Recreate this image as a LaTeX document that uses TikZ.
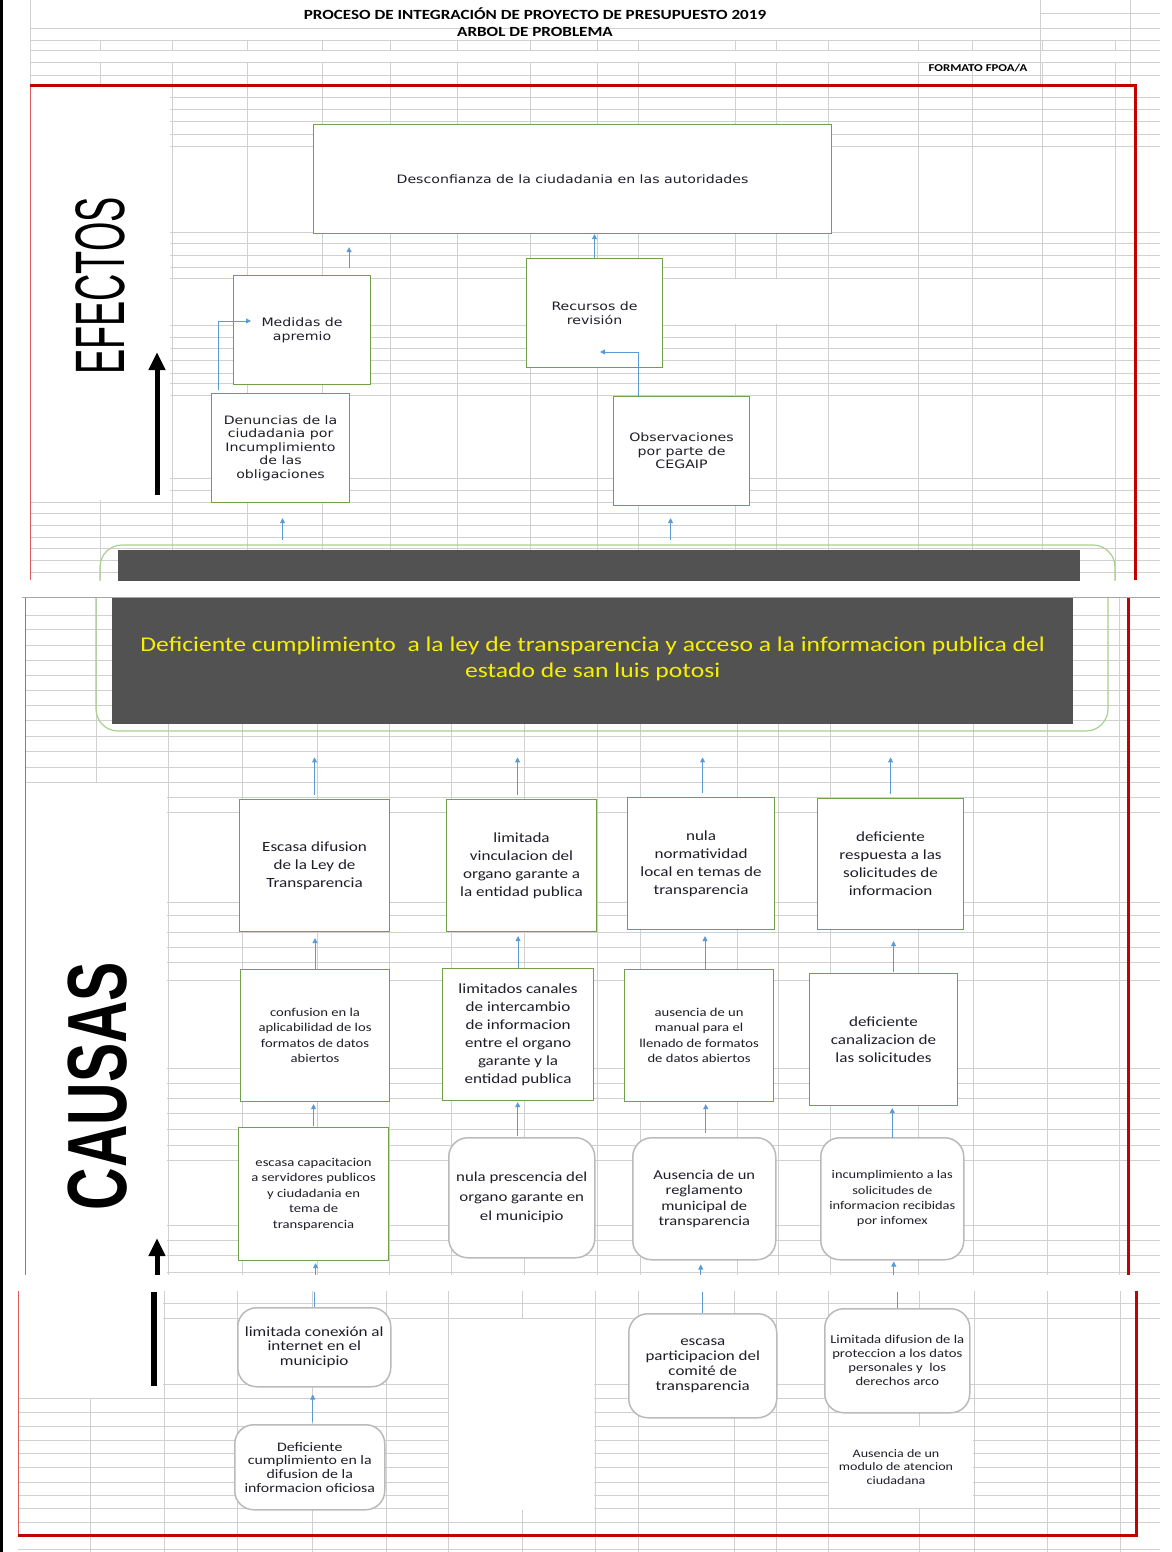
\documentclass[tikz,border=0pt]{standalone}
\usepackage{fontspec}
\usepackage{graphicx}
\usetikzlibrary{arrows.meta,calc}
\setmainfont{DejaVu Sans}
\newfontfamily\fA[FakeStretch=1.22]{DejaVu Sans}
\newfontfamily\fB[FakeStretch=1.22]{Carlito}
\newfontfamily\fArial{Liberation Sans}
\definecolor{gridc}{RGB}{208,208,208}
\definecolor{boxgreen}{RGB}{112,160,72}
\definecolor{boxgray}{RGB}{186,186,186}
\definecolor{framegreen}{RGB}{169,209,142}
\definecolor{darkfill}{RGB}{82,82,82}
\definecolor{ytext}{RGB}{246,240,0}
\definecolor{arrowblue}{RGB}{91,155,213}
\definecolor{redframe}{RGB}{196,0,0}
\definecolor{redthinc}{RGB}{222,90,90}
\definecolor{txt}{RGB}{30,30,40}
\begin{document}
\begin{tikzpicture}[x=1pt,y=-1pt,
  gridline/.style={draw=gridc, line width=0.8pt},
  redthick/.style={draw=redframe, line width=3pt},
  redthin/.style={draw=redthinc, line width=1pt},
  gbox/.style={draw=boxgreen, line width=1.1pt, fill=white, inner sep=2pt, align=center, anchor=north west},
  rbox/.style={draw=boxgray, line width=1.5pt, fill=white, rounded corners=19pt, inner sep=2pt, align=center, anchor=north west},
  darkbox/.style={fill=darkfill, inner sep=0pt, anchor=north west, align=center},
  probframe/.style={draw=framegreen, line width=1.2pt, rounded corners=22pt},
  barrow/.style={draw=arrowblue, line width=0.9pt, -{Triangle[width=5pt,length=5pt]}},
  bline/.style={draw=arrowblue, line width=0.9pt},
  bigarrow/.style={draw=black, line width=5pt, -{Triangle[width=16pt,length=18pt]}},
  tA/.style={font=\fA\fontsize{11.6}{13.5}\selectfont, text=txt},
  tR/.style={font=\fB\fontsize{14}{18}\selectfont, text=txt},
  tS/.style={font=\fB\fontsize{12}{15.4}\selectfont, text=txt},
  titlef/.style={font=\fB\bfseries\fontsize{14}{15}\selectfont}
]
\useasboundingbox (0,0) rectangle (1172,1552);
\fill[white] (0,0) rectangle (1172,1552);

% ---------------- segment 1 grid ----------------
\foreach \y in {28,40,50,62,75} \draw[gridline] (30,\y) -- (1160,\y);
\draw[gridline] (1040,13) -- (1160,13);
\foreach \x in {30,1040,1130} \draw[gridline] (\x,0) -- (\x,86);
\foreach \x in {100,172,247,322,390,457,530,597,638,735,776,828,918,972,1042,1115} {
  \draw[gridline] (\x,40) -- (\x,50);
  \draw[gridline] (\x,62) -- (\x,580);
}
\foreach \y in {97,109,121,134,146,232,243,255,267,278,325,337,348,360,373,383,395,478,490,502,513,525,537,548,560,572}
  \draw[gridline] (30,\y) -- (1160,\y);
\fill[white] (31,87) rectangle (170,500);
\fill[white] (662,279) rectangle (826,324);

% ---------------- segment 2 grid ----------------
\foreach \y in {615,629,645,660,675,690,705,720,736,751,767,782,797,812,902,915,932,947,962,980,1068,1083,1098,1113,1129,1145,1160,1225,1240,1255,1272}
  \draw[gridline] (25,\y) -- (1160,\y);
\foreach \x in {168,242,317,389,451,524,597,640,737,778,830,918,973,1047,1119}
  \draw[gridline] (\x,598) -- (\x,1275);
\draw[gridline] (96,598) -- (96,782);
\fill[white] (26,783) rectangle (167,1275);
\draw[draw=gray!70, line width=1pt] (22,597.5) -- (1160,597.5);

% ---------------- segment 3 grid ----------------
\foreach \y in {1303,1318,1384,1398,1412,1426,1440,1453,1467,1482,1495,1508,1522,1549}
  \draw[gridline] (18,\y) -- (1160,\y);
\foreach \x in {164,237,312,386,448,522,595,638,734,776,828,919,974,1047,1120}
  \draw[gridline] (\x,1291) -- (\x,1552);
\draw[gridline] (90,1398) -- (90,1552);
\fill[white] (19,1291) rectangle (163,1397);
\fill[white] (449,1319) rectangle (594,1510);
\fill[white] (829,1427) rectangle (973,1508);

% ---------------- frames ----------------
\draw[black, line width=3pt] (1.5,0) -- (1.5,1552);
\draw[redthin] (30,86) -- (30,580);
\draw[redthick] (30,86) -- (1135,86) -- (1135,580);
\draw[redthin] (25,598) -- (25,1275);
\draw[redthick] (1128,598) -- (1128,1275);
\draw[redthin] (18,1291) -- (18,1535);
\draw[redthick] (18,1535) -- (1136,1535) -- (1136,1291);

% ---------------- titles ----------------
\node[titlef] (t1) at (535,14) {PROCESO DE INTEGRACIÓN DE PROYECTO DE PRESUPUESTO 2019};
\node[titlef] (t2) at (535,32) {ARBOL DE PROBLEMA};
\node[font=\fB\bfseries\fontsize{10.5}{12}\selectfont] (t3) at (978,68) {FORMATO FPOA/A};

% ---------------- side labels ----------------
\node[rotate=90, inner sep=0pt] (efectos) at (100,286) {\scalebox{0.54}[1]{\fArial\fontsize{70}{70}\selectfont EFECTOS}};
\node[rotate=90, inner sep=0pt] (causas) at (98,1086) {\scalebox{0.70}[1]{\fArial\bfseries\fontsize{84}{84}\selectfont CAUSAS}};
\coordinate (ea1) at (157,495);
\coordinate (ea2) at (157,352);
\draw[bigarrow] (ea1) -- (ea2);
\coordinate (ca1) at (157,1275);
\coordinate (ca2) at (157,1238);
\draw[bigarrow] (ca1) -- (ca2);
\coordinate (cl1) at (154,1292);
\coordinate (cl2) at (154,1386);
\draw[black, line width=6pt] (cl1) -- (cl2);

% ---------------- problem ----------------
\begin{scope}
  \clip (0,540) rectangle (1172,580.5);
  \draw[probframe] (100,545) rectangle (1115,700);
\end{scope}
\node[darkbox, minimum width=962, minimum height=30.5] (probtop) at (118,550) {};
\begin{scope}
  \clip (0,598) rectangle (1172,800);
  \draw[probframe] (96,560) rectangle (1108,731);
\end{scope}
\node[darkbox, minimum width=961, minimum height=126, text=ytext, text depth=8pt,
      font=\fB\fontsize{21}{25.5}\selectfont] (prob) at (112,598)
  {Deficiente cumplimiento\ \ a la ley de transparencia y acceso a la informacion publica del\\estado de san luis potosi};

% ---------------- effects ----------------
\node[gbox, tA, minimum width=518, minimum height=109] (des) at (313,124) {Desconfianza de la ciudadania en las autoridades};
\node[gbox, tA, minimum width=137, minimum height=109] (med) at (233,275) {Medidas de\\apremio};
\node[gbox, tA, minimum width=136, minimum height=109] (rec) at (526,258) {Recursos de\\revisión};
\node[gbox, tA, minimum width=138, minimum height=109] (den) at (211,393) {Denuncias de la\\ciudadania por\\Incumplimiento\\de las\\obligaciones};
\node[gbox, tA, minimum width=136, minimum height=109] (obs) at (613,396) {Observaciones\\por parte de\\CEGAIP};

\draw[barrow] (rec.north) -- (rec.north |- des.south);
\coordinate (m1) at ([xshift=-22pt]med.north east);
\draw[barrow, shorten <=7pt, shorten >=13pt] (m1) -- (m1 |- des.south);
\coordinate (d1) at ([xshift=7pt]den.north west);
\coordinate (m2) at ($(med.north west)+(18,46)$);
\draw[barrow, shorten <=3pt] (d1) |- (m2);
\coordinate (o1) at ([xshift=25pt]obs.north west);
\coordinate (rr1) at ($(rec.north west)+(74,94)$);
\draw[barrow] (o1) |- (rr1);
\coordinate (dA) at ([xshift=2pt]den.south);
\draw[barrow, shorten <=10pt, shorten >=15pt] (dA |- probtop.north) -- (dA);
\coordinate (oA) at ([xshift=-11pt]obs.south);
\draw[barrow, shorten <=10pt, shorten >=12pt] (oA |- probtop.north) -- (oA);

% ---------------- causes row 1 ----------------
\node[gbox, tR, minimum width=150, minimum height=132] (r1c1) at (239,799) {Escasa difusion\\de la Ley de\\Transparencia};
\node[gbox, tR, minimum width=150, minimum height=132] (r1c2) at (446,799) {limitada\\vinculacion del\\organo garante a\\la entidad publica};
\node[gbox, tR, minimum width=147, minimum height=132] (r1c3) at (627,797) {nula\\normatividad\\local en temas de\\transparencia};
\node[gbox, tR, minimum width=146, minimum height=131] (r1c4) at (817,798) {deficiente\\respuesta a las\\solicitudes de\\informacion};

\coordinate (p1) at (r1c1.north);
\coordinate (p2) at ([xshift=-4pt]r1c2.north);
\coordinate (p3) at ([xshift=1.5pt]r1c3.north);
\coordinate (p4) at (r1c4.north);
\foreach \p in {p1,p2,p3,p4}
  \draw[barrow, shorten <=4pt, shorten >=33pt] (\p) -- (\p |- prob.south);

% ---------------- causes row 2 ----------------
\node[gbox, tS, minimum width=149, minimum height=132] (r2c1) at (240,969) {confusion en la\\aplicabilidad de los\\formatos de datos\\abiertos};
\node[gbox, tR, minimum width=151, minimum height=132] (r2c2) at (442,968) {limitados canales\\de intercambio\\de informacion\\entre el organo\\garante y la\\entidad publica};
\node[gbox, tS, minimum width=149, minimum height=132] (r2c3) at (624,969) {ausencia de un\\manual para el\\llenado de formatos\\de datos abiertos};
\node[gbox, tR, minimum width=148, minimum height=132] (r2c4) at (809,973) {deficiente\\canalizacion de\\las solicitudes};

\draw[barrow, shorten >=6pt] (r2c1.north) -- (r2c1.north |- r1c1.south);
\draw[barrow, shorten >=4pt] (r2c2.north) -- (r2c2.north |- r1c2.south);
\coordinate (q3) at ([xshift=6pt]r2c3.north);
\draw[barrow, shorten >=6pt] (q3) -- (q3 |- r1c3.south);
\coordinate (q4) at ([xshift=10pt]r2c4.north);
\draw[barrow, shorten <=1pt, shorten >=11pt] (q4) -- (q4 |- r1c4.south);

% ---------------- causes row 3 ----------------
\node[gbox, tS, minimum width=150, minimum height=133] (r3c1) at (238,1127) {escasa capacitacion\\a servidores publicos\\y ciudadania en\\tema de\\transparencia};
\node[rbox, font=\fB\fontsize{13.8}{19.5}\selectfont, text=txt, minimum width=146, minimum height=120] (r3c2) at (448,1137) {nula prescencia del\\organo garante en\\el municipio};
\node[rbox, font=\fB\fontsize{13.5}{15.3}\selectfont, text=txt, minimum width=143, minimum height=122] (r3c3) at (632,1137) {Ausencia de un\\reglamento\\municipal de\\transparencia};
\node[rbox, font=\fB\fontsize{11.8}{15.3}\selectfont, text=txt, minimum width=143, minimum height=122] (r3c4) at (820,1137) {incumplimiento a las\\solicitudes de\\informacion recibidas\\por infomex};

\draw[barrow, shorten <=1pt, shorten >=2pt] (r3c1.north) -- (r3c1.north |- r2c1.south);
\coordinate (u2) at ([xshift=-4pt]r3c2.north);
\draw[barrow, shorten <=1pt, shorten >=1pt] (u2) -- (u2 |- r2c2.south);
\coordinate (u3) at ([xshift=1.5pt]r3c3.north);
\draw[barrow, shorten <=4pt, shorten >=2pt] (u3) -- (u3 |- r2c3.south);
\draw[barrow, shorten <=-1pt, shorten >=2pt] (r3c4.north) -- (r3c4.north |- r2c4.south);

% ---------------- segment 3 ----------------
\node[rbox, font=\fB\fontsize{14}{14.5}\selectfont, text=txt, minimum width=153, minimum height=79] (s3a) at (237,1307) {limitada conexión al\\internet en el\\municipio};
\node[rbox, font=\fB\fontsize{13}{13.7}\selectfont, text=txt, minimum width=150, minimum height=85] (s3b) at (234,1424) {Deficiente\\cumplimiento en la\\difusion de la\\informacion oficiosa};
\node[rbox, font=\fB\fontsize{13.9}{14.7}\selectfont, text=txt, minimum width=148, minimum height=104] (s3c) at (628,1313) {escasa\\participacion del\\comité de\\transparencia};
\node[rbox, font=\fB\fontsize{12}{14}\selectfont, text=txt, minimum width=145, minimum height=104] (s3d) at (824,1308) {Limitada difusion de la\\proteccion a los datos\\personales y\ \ los\\derechos arco};
\node[font=\fB\fontsize{11.5}{13.5}\selectfont, text=txt, align=center] (aus) at (896,1467) {Ausencia de un\\modulo de atencion\\ciudadana};

\coordinate (cut2) at (0,1275);
\coordinate (cut3) at (0,1292);
\coordinate (v1) at ([xshift=2pt]r3c1.south);
\draw[barrow, shorten >=2pt] (v1 |- cut2) -- (v1);
\coordinate (v3) at ([xshift=-3.5pt]r3c3.south);
\draw[barrow, shorten >=4pt] (v3 |- cut2) -- (v3);
\coordinate (v4) at ([xshift=1.5pt]r3c4.south);
\draw[barrow, shorten >=1pt] (v4 |- cut2) -- (v4);
\draw[bline] (s3a.north) -- (s3a.north |- cut3);
\draw[bline] (s3c.north) -- (s3c.north |- cut3);
\draw[bline] (s3d.north) -- (s3d.north |- cut3);
\coordinate (w1) at ([xshift=3pt]s3b.north);
\draw[barrow, shorten <=2pt, shorten >=7pt] (w1) -- (w1 |- s3a.south);
\end{tikzpicture}
\end{document}
